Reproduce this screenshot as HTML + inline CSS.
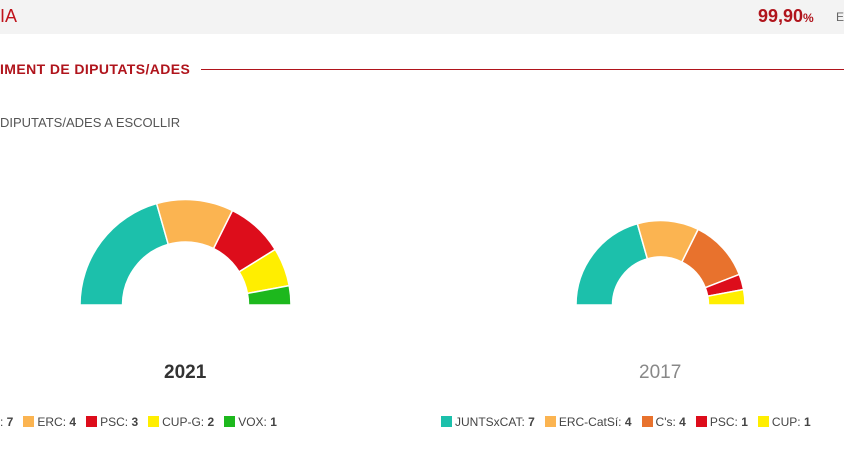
<!DOCTYPE html>
<html><head><meta charset="utf-8"><style>
body{margin:0;width:844px;height:474px;background:#fff;overflow:hidden;font-family:"Liberation Sans",sans-serif;position:relative}
.t{position:absolute;white-space:nowrap}
</style></head><body>
<div style="position:absolute;left:0;top:0;width:844px;height:34px;background:#f3f3f3"></div>
<div class="t" style="left:0;top:6px;font-size:18px;color:#c0141c">IA</div>
<div class="t" style="left:758px;top:6px;font-size:18px;color:#b0141c;font-weight:bold">99,90<span style="font-size:12px">%</span></div>
<div class="t" style="left:836px;top:10px;font-size:12px;color:#666">E</div>
<div class="t" style="left:0;top:61px;font-size:14px;color:#b0141c;font-weight:bold;letter-spacing:0.4px">IMENT DE DIPUTATS/ADES</div>
<div style="position:absolute;left:201px;top:69px;width:643px;height:1px;background:#b0141c"></div>
<div class="t" style="left:0;top:115px;font-size:13px;color:#555">DIPUTATS/ADES A ESCOLLIR</div>
<svg id="s" width="844" height="474" style="position:absolute;left:0;top:0"></svg>
<div class="t" style="left:164px;top:362px;font-size:19px;font-weight:bold;color:#333">2021</div>
<div class="t" style="left:639px;top:362px;font-size:19px;color:#888">2017</div>
<div class="t" style="left:0;top:415px;font-size:12px;color:#444" id="l1"></div>
<div class="t" style="left:441px;top:415px;font-size:12px;color:#444" id="l2"></div>
<script>
const T='#1cc0ab',O='#fbb451',R='#dd0d1b',Y='#ffee00',G='#1db81d',C='#e8722d';
function donut(cx,cy,Ro,Ri,parts){let tot=parts.reduce((a,p)=>a+p[1],0),a=Math.PI,s='';
parts.forEach(p=>{let b=a-Math.PI*p[1]/tot;
let f=(r,t)=>(cx+r*Math.cos(t)).toFixed(2)+' '+(cy-r*Math.sin(t)).toFixed(2);
s+=`<path d="M${f(Ro,a)} A${Ro} ${Ro} 0 0 1 ${f(Ro,b)} L${f(Ri,b)} A${Ri} ${Ri} 0 0 0 ${f(Ri,a)}Z" fill="${p[0]}" stroke="#fff" stroke-width="1.5"/>`;a=b;});return s;}
document.getElementById('s').innerHTML=donut(185.5,305,105.5,63,[[T,7],[O,4],[R,3],[Y,2],[G,1]])+donut(660.5,305,84.5,48,[[T,7],[O,4],[C,4],[R,1],[Y,1]]);
function leg(items){return items.map(i=>`<span style="display:inline-block;width:11px;height:11px;background:${i[0]};vertical-align:-1px;margin-right:3px"></span>${i[1]}: <b>${i[2]}</b>`).join('&nbsp;&nbsp; ');}
document.getElementById('l1').innerHTML=': <b>7</b>&nbsp;&nbsp; '+leg([[O,'ERC',4],[R,'PSC',3],[Y,'CUP-G',2],[G,'VOX',1]]);
document.getElementById('l2').innerHTML=leg([[T,'JUNTSxCAT',7],[O,'ERC-CatSí',4],[C,"C's",4],[R,'PSC',1],[Y,'CUP',1]]);
</script>
</body></html>
